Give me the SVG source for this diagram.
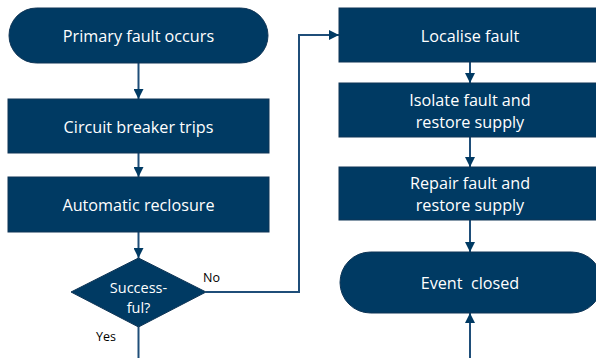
<svg xmlns="http://www.w3.org/2000/svg" width="596" height="358" viewBox="0 0 596 358">
<defs>
<style>
.n{fill:#003A63;stroke:#0F3556;stroke-width:1}
.t{fill:#fff;font-family:"Open Sans","Liberation Sans",sans-serif;font-size:16.2px;text-anchor:middle;white-space:pre}
.d{font-size:14.5px}
.l{fill:#000;font-family:"Open Sans","Liberation Sans",sans-serif;font-size:12.5px}
.c{fill:none;stroke:#1F4E79;stroke-width:2}
</style>
<marker id="a" viewBox="0 0 10 10" refX="10" refY="5" markerWidth="5" markerHeight="5" orient="auto" markerUnits="strokeWidth">
<path d="M0,0 L10,5 L0,10 z" fill="#003A63"/>
</marker>
</defs>
<rect width="596" height="358" fill="#fff"/>
<g id="connectors">
<line class="c" x1="138.5" y1="63" x2="138.5" y2="99" marker-end="url(#a)"/>
<line class="c" x1="138.5" y1="153" x2="138.5" y2="177" marker-end="url(#a)"/>
<line class="c" x1="138.5" y1="232" x2="138.5" y2="258" marker-end="url(#a)"/>
<polyline class="c" points="206,292 299,292 299,35 339,35" marker-end="url(#a)"/>
<line class="c" x1="138.5" y1="327" x2="138.5" y2="358"/>
<line class="c" x1="470" y1="62" x2="470" y2="83" marker-end="url(#a)"/>
<line class="c" x1="470" y1="137" x2="470" y2="167" marker-end="url(#a)"/>
<line class="c" x1="470" y1="220" x2="470" y2="252" marker-end="url(#a)"/>
<line class="c" x1="470" y1="358" x2="470" y2="313" marker-end="url(#a)"/>
<text class="l" x="203" y="282">No</text>
<text class="l" x="96" y="341">Yes</text>
</g>
<g id="n1"><rect class="n" x="9" y="8" width="259" height="55" rx="27.5"/><text class="t" x="138.5" y="42">Primary fault occurs</text></g>
<g id="n2"><rect class="n" x="8" y="99" width="261" height="54"/><text class="t" x="138.5" y="132.5">Circuit breaker trips</text></g>
<g id="n3"><rect class="n" x="8" y="177" width="261" height="55"/><text class="t" x="138.5" y="211">Automatic reclosure</text></g>
<g id="n4"><path class="n" d="M138.5,258 L206,292 L138.5,327 L71,292 Z"/><text class="t d" x="138.5" y="293">Success-</text><text class="t d" x="138.5" y="313">ful?</text></g>
<g id="n5"><rect class="n" x="339" y="8" width="262" height="54"/><text class="t" x="470" y="41.5">Localise fault</text></g>
<g id="n6"><rect class="n" x="339" y="83" width="262" height="54"/><text class="t" x="470" y="105.5">Isolate fault and</text><text class="t" x="470" y="128">restore supply</text></g>
<g id="n7"><rect class="n" x="339" y="167" width="262" height="53"/><text class="t" x="470" y="188.5">Repair fault and</text><text class="t" x="470" y="210.5">restore supply</text></g>
<g id="n8"><rect class="n" x="340" y="252" width="262" height="61" rx="30.5"/><text class="t" x="470" y="289" xml:space="preserve">Event  closed</text></g>
</svg>
